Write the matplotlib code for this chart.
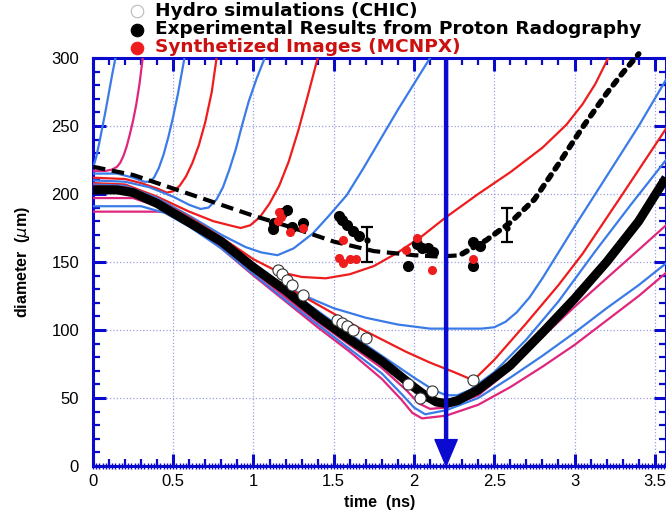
import matplotlib
matplotlib.use("Agg")
import matplotlib.pyplot as plt
from matplotlib.ticker import MultipleLocator

plt.rcParams['font.family'] = ['Liberation Sans', 'DejaVu Sans']

# colours used in the original figure
BLUE = '#3a7be8'
RED = '#ee1c1c'
MAGENTA = '#e0267c'
AXIS = '#0a0acc'

# ---- data: simulated diameter curves (time in ns, diameter in um) ----
# curves that bounce and rise off the top of the frame
u1_t = [0, 0.02, 0.04, 0.06, 0.08, 0.10, 0.12, 0.14]
u1_d = [219, 227, 238, 250, 262, 275, 288, 300]
u2_t = [0, 0.08, 0.12, 0.15, 0.17, 0.19, 0.21, 0.23, 0.25, 0.27, 0.29, 0.31]
u2_d = [217, 217, 218, 220, 223, 228, 235, 244, 254, 266, 281, 300]
u3_t = [0, 0.15, 0.25, 0.32, 0.35, 0.38, 0.41, 0.44, 0.47, 0.50, 0.53, 0.57]
u3_d = [215, 215, 212, 209, 209, 212, 219, 229, 242, 257, 274, 300]
u4_t = [0, 0.2, 0.3, 0.4, 0.46, 0.50, 0.54, 0.58, 0.62, 0.66, 0.70, 0.74, 0.77]
u4_d = [212, 211, 208, 204, 201, 202, 206, 213, 223, 236, 253, 275, 300]
u5_t = [0, 0.2, 0.35, 0.5, 0.6, 0.67, 0.72, 0.77, 0.81, 0.85, 0.89, 0.93, 0.97, 1.02, 1.07]
u5_d = [210, 209, 205, 198, 192, 189, 190, 196, 205, 218, 233, 251, 268, 285, 300]
u6_t = [0, 0.2, 0.4, 0.6, 0.75, 0.85, 0.92, 0.98, 1.04, 1.10, 1.16, 1.22, 1.28, 1.34, 1.40]
u6_d = [208, 207, 198, 187, 180, 177, 175, 177, 183, 193, 206, 224, 247, 273, 300]
u7_t = [0, 0.2, 0.4, 0.6, 0.8, 0.95, 1.05, 1.15, 1.25, 1.37, 1.47, 1.58, 1.68, 1.79,
        1.9, 2.0, 2.1]
u7_d = [207, 206, 197, 184, 170, 161, 157, 155, 160, 171, 184, 199, 218, 240,
        262, 281, 300]
u8_t = [0, 0.2, 0.4, 0.6, 0.8, 1.0, 1.15, 1.3, 1.45, 1.6, 1.75, 1.9, 2.05, 2.2, 2.4,
        2.6, 2.8, 2.95, 3.05, 3.13, 3.21]
u8_d = [206, 205, 196, 183, 168, 152, 143, 139, 138, 141, 147, 157, 169, 183, 200,
        216, 234, 251, 266, 281, 300]
u9_t = [0, 0.2, 0.4, 0.6, 0.8, 1.0, 1.15, 1.3, 1.5, 1.7, 1.9, 2.1, 2.3, 2.42, 2.5,
        2.57, 2.64, 2.72, 2.8, 2.9, 3.0, 3.2, 3.4, 3.57]
u9_d = [205, 204, 195, 181, 167, 149, 136, 126, 116, 109, 104, 101, 101, 101, 102,
        106, 113, 124, 138, 157, 176, 213, 250, 284]
# V-shaped curves reaching the minimum
v_red_t = [0, 0.2, 0.4, 0.6, 0.8, 1.0, 1.2, 1.35, 1.5, 1.65, 1.8, 1.95, 2.1, 2.25, 2.37,
           2.5, 2.7, 2.9, 3.05, 3.3, 3.57]
v_red_d = [204, 203, 194, 181, 166, 148, 132, 122, 112, 102, 93, 84, 76, 69, 63,
           78, 105, 133, 156, 200, 248]
v_blue_t = [0, 0.2, 0.4, 0.6, 0.8, 1.0, 1.2, 1.4, 1.6, 1.8, 2.0, 2.12, 2.2, 2.27, 2.35,
            2.5, 2.7, 2.9, 3.13, 3.35, 3.57]
v_blue_d = [205, 204, 196, 182, 167, 148, 131, 114, 97, 81, 65, 56, 52, 52, 56,
            69, 93, 121, 158, 192, 225]
chic_t = [0, 0.15, 0.25, 0.4, 0.6, 0.8, 1.0, 1.2, 1.4, 1.6, 1.8, 2.0, 2.08, 2.14, 2.2,
          2.27, 2.4, 2.6, 2.8, 3.0, 3.2, 3.4, 3.57]
chic_d = [203, 203, 201, 193, 179, 165, 146, 129, 110, 93, 77, 58, 51, 47, 46,
          48, 56, 74, 98, 123, 150, 180, 212]
m2_t = [0, 0.25, 0.4, 0.6, 0.8, 1.0, 1.2, 1.4, 1.6, 1.8, 1.95, 2.03, 2.1, 2.2, 2.4,
        2.6, 2.8, 3.0, 3.2, 3.4, 3.57]
m2_d = [197, 197, 191, 177, 162, 143, 124, 106, 89, 72, 56, 46, 42, 43, 52,
        71, 95, 117, 138, 159, 177]
b2_t = [0, 0.3, 0.45, 0.6, 0.8, 1.0, 1.2, 1.4, 1.6, 1.8, 1.93, 2.0, 2.07, 2.2, 2.4,
        2.6, 2.8, 3.0, 3.2, 3.4, 3.57]
b2_d = [191, 191, 186, 176, 160, 141, 122, 104, 86, 68, 52, 43, 38, 41, 50,
        65, 81, 98, 116, 133, 149]
m1_t = [0, 0.45, 0.6, 0.8, 1.0, 1.2, 1.4, 1.6, 1.8, 1.92, 1.99, 2.05, 2.2, 2.4, 2.6,
        2.8, 3.0, 3.2, 3.4, 3.57]
m1_d = [187, 187, 178, 160, 140, 121, 102, 84, 64, 49, 39, 35, 37, 45, 58,
        73, 89, 107, 125, 142]

# fit through the experimental points
fit_t = [0, 0.25, 0.5, 0.75, 1.0, 1.25, 1.5, 1.75, 2.0, 2.15, 2.3]
fit_d = [220, 214, 204, 194, 184, 175, 165, 158, 155, 154, 155]
fit2_t = [2.3, 2.45, 2.6, 2.75, 2.9, 3.05, 3.2, 3.3, 3.4]
fit2_d = [156, 166, 179, 196, 222, 249, 274, 289, 303]

# markers
hydro_t = [1.15, 1.18, 1.21, 1.24, 1.31, 1.52, 1.55, 1.58, 1.62, 1.70, 1.96, 2.04, 2.11, 2.37]
hydro_d = [144, 141, 137, 133, 126, 107, 105, 103, 100, 94, 60, 50, 55, 63]
exp_t = [1.13, 1.18, 1.21, 1.24, 1.31, 1.12, 1.53, 1.55, 1.58, 1.62, 1.66,
         1.96, 2.02, 2.05, 2.09, 2.12, 2.37, 2.37, 2.41]
exp_d = [179, 186, 188, 176, 179, 174, 184, 181, 177, 173, 169,
         147, 163, 160, 160, 157, 147, 165, 162]
syn_t = [1.16, 1.17, 1.15, 1.23, 1.31, 1.56, 1.53, 1.56, 1.60, 1.64, 1.95, 2.02, 2.11, 2.37]
syn_d = [187, 183, 180, 172, 175, 166, 153, 149, 152, 152, 159, 168, 144, 152]
err_t = [1.71, 2.58]
err_d = [166, 175]
err_lo = [16, 10]
err_hi = [10, 15]

arrow_t = 2.2

fig = plt.figure(figsize=(6.66, 5.14), dpi=100)
ax = fig.add_axes([0.1396, 0.0934, 0.8604, 0.7938])

lw = 1.6
for t, d, c in [(u1_t, u1_d, BLUE), (u2_t, u2_d, MAGENTA), (u3_t, u3_d, BLUE),
                (u4_t, u4_d, RED), (u5_t, u5_d, BLUE), (u6_t, u6_d, RED),
                (u7_t, u7_d, BLUE), (u8_t, u8_d, RED), (u9_t, u9_d, BLUE),
                (m1_t, m1_d, MAGENTA), (b2_t, b2_d, BLUE), (m2_t, m2_d, MAGENTA),
                (v_red_t, v_red_d, RED), (v_blue_t, v_blue_d, BLUE)]:
    ax.plot(t, d, color=c, lw=lw, zorder=3)

ax.plot(chic_t, chic_d, color='black', lw=6.5, zorder=4, solid_capstyle='butt')

ax.plot(fit_t, fit_d, color='black', lw=3.0, ls=(0, (3, 1.6)), zorder=5)
ax.plot(fit2_t, fit2_d, color='black', lw=4.0, ls=(0, (1.0, 1.3)), zorder=5,
        dash_capstyle='round', clip_on=False)

ax.errorbar(err_t, err_d, yerr=[err_lo, err_hi], fmt='o', color='black', ms=3.5,
            elinewidth=1.6, capsize=4, capthick=1.6, zorder=6)

ax.plot(exp_t, exp_d, 'o', color='black', ms=7, zorder=6)
ax.plot(syn_t, syn_d, 'o', color=RED, ms=5.5, zorder=7)
ax.plot(hydro_t, hydro_d, 'o', mfc='white', mec='#333333', mew=0.8, ms=8, zorder=8)

ax.annotate('', xy=(arrow_t, 0), xytext=(arrow_t, 300),
            arrowprops=dict(color='#0a0ad0', width=2.2, headwidth=16, headlength=19),
            zorder=9)

ax.set_xlim(0, 3.57)
ax.set_ylim(0, 300)
ax.xaxis.set_major_locator(MultipleLocator(0.5))
ax.xaxis.set_minor_locator(MultipleLocator(0.1))
ax.yaxis.set_major_locator(MultipleLocator(50))
ax.yaxis.set_minor_locator(MultipleLocator(10))
ax.set_xticks([0, 0.5, 1, 1.5, 2, 2.5, 3, 3.5])
ax.set_xticklabels(['0', '0.5', '1', '1.5', '2', '2.5', '3', '3.5'])
ax.tick_params(which='major', direction='in', length=9, width=2.2, color=AXIS,
               top=True, right=True, labelsize=12, pad=6)
ax.tick_params(which='minor', direction='in', length=5, width=1.6, color=AXIS,
               top=True, right=True)
ax.tick_params(axis='y', which='major', pad=10)

# dense small ticks along the bottom axis
sec = ax.secondary_xaxis('bottom')
sec.xaxis.set_major_locator(MultipleLocator(0.02))
sec.tick_params(direction='inout', length=4, width=1.0, color=AXIS, labelbottom=False)
sec.spines['bottom'].set_visible(False)

for s in ax.spines.values():
    s.set_color(AXIS)
    s.set_linewidth(2.2)

ax.grid(True, which='major', color='#9aa0e0', ls=':', lw=0.9)

ax.set_xlabel('time  (ns)', fontsize=11.5, fontweight='bold', labelpad=4)
ax.set_ylabel('diameter  ($\\mu$m)', fontsize=11.5, fontweight='bold', labelpad=14)

# legend placed above the frame
leg_items = [('Hydro simulations (CHIC)', 'white', '#bbbbbb', 'black', 11),
             ('Experimental Results from Proton Radography', 'black', 'black', 'black', 29.5),
             ('Synthetized Images (MCNPX)', RED, RED, '#cc1111', 47.5)]
for label, fc, ec, tc, ypx in leg_items:
    yf = 1 - ypx / 514
    fig.lines.append(plt.Line2D([137 / 666], [yf], marker='o', ms=9, mfc=fc, mec=ec,
                                mew=0.8, transform=fig.transFigure))
    fig.text(155 / 666, yf, label, fontsize=13.3, fontweight='bold', color=tc,
             ha='left', va='center', family='DejaVu Sans')

fig.savefig('out.png', dpi=100)
